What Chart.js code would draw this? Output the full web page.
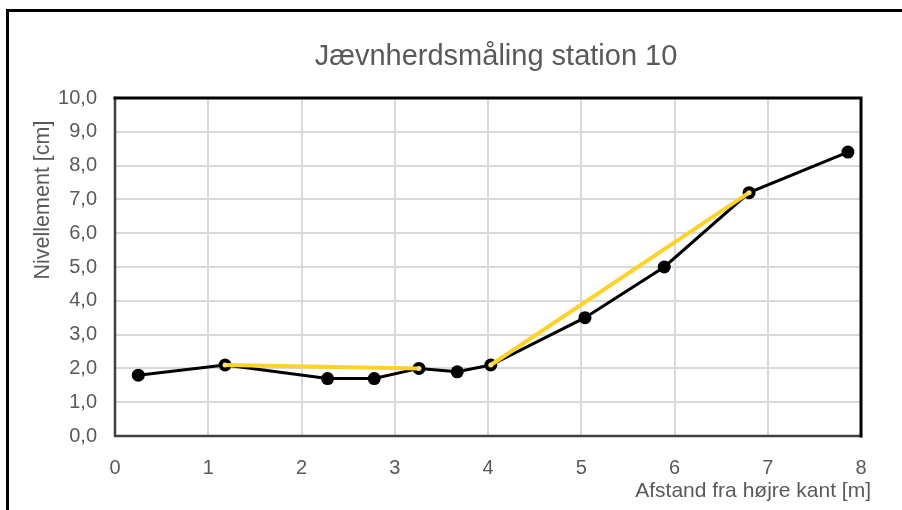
<!DOCTYPE html>
<html>
<head>
<meta charset="utf-8">
<script src="https://cdn.jsdelivr.net/npm/chart.js@4/dist/chart.umd.min.js"></script>
<style>
  html, body { margin: 0; padding: 0; background: #ffffff; }
  #wrap { width: 902px; height: 510px; }
</style>
</head>
<body>
<div id="wrap"><canvas id="c" width="902" height="510"></canvas></div>
<script>
// Measured profile: distance from the right edge [m] and levelling [cm]
const distance = [0.25, 1.18, 2.28, 2.78, 3.26, 3.67, 4.03, 5.04, 5.89, 6.80, 7.86];
const levelling = [1.8, 2.1, 1.7, 1.7, 2.0, 1.9, 2.1, 3.5, 5.0, 7.2, 8.4];

// Straight reference segments (gap between them)
const refDistance = [1.18, 3.26, null, 4.03, 6.80];
const refLevelling = [2.1, 2.0, null, 2.1, 7.2];

const yTicks = [0, 1, 2, 3, 4, 5, 6, 7, 8, 9, 10];
const xTicks = [0, 1, 2, 3, 4, 5, 6, 7, 8];

const chartTitle = 'Jævnherdsmåling station 10';
const yTitle = 'Nivellement [cm]';
const xTitle = 'Afstand fra højre kant [m]';

const FONT = '"Liberation Sans", Arial, sans-serif';
const TEXT = '#595959';

const toPoints = (xs, ys) => xs.map((x, i) => (x === null ? { x: null, y: null } : { x: x, y: ys[i] }));

// Frame, plot border and texts
const decor = {
  id: 'decor',
  beforeDatasetsDraw(chart) {
    const { ctx, chartArea: a } = chart;
    ctx.save();
    ctx.lineCap = 'square';
    ctx.strokeStyle = '#404040';
    ctx.lineWidth = 2.5;
    ctx.beginPath();
    ctx.moveTo(a.left, a.top);
    ctx.lineTo(a.left, a.bottom);
    ctx.lineTo(a.right, a.bottom);
    ctx.stroke();
    ctx.strokeStyle = '#000000';
    ctx.lineWidth = 3;
    ctx.beginPath();
    ctx.moveTo(a.left, a.top);
    ctx.lineTo(a.right, a.top);
    ctx.lineTo(a.right, a.bottom);
    ctx.stroke();
    ctx.restore();
  },
  afterDraw(chart) {
    const { ctx } = chart;
    ctx.save();
    // outer frame
    ctx.strokeStyle = '#000000';
    ctx.lineWidth = 3;
    ctx.beginPath();
    ctx.moveTo(7.5, 520);
    ctx.lineTo(7.5, 10.5);
    ctx.lineTo(910, 10.5);
    ctx.stroke();

    ctx.fillStyle = TEXT;
    ctx.textBaseline = 'middle';
    ctx.textAlign = 'center';
    ctx.font = '29px ' + FONT;
    ctx.fillText(chartTitle, 496, 57);

    ctx.font = '21px ' + FONT;
    ctx.textAlign = 'right';
    ctx.fillText(xTitle, 871, 491);

    ctx.translate(43, 200);
    ctx.rotate(-Math.PI / 2);
    ctx.textAlign = 'center';
    ctx.font = '21.5px ' + FONT;
    ctx.fillText(yTitle, 0, 0);
    ctx.restore();
  }
};

new Chart(document.getElementById('c'), {
  type: 'scatter',
  data: {
    datasets: [
      {
        data: toPoints(refDistance, refLevelling),
        showLine: true,
        spanGaps: false,
        borderColor: '#FFD22B',
        backgroundColor: '#FFE27A',
        borderWidth: 4,
        pointRadius: 2.5,
        pointBorderWidth: 0,
        order: 0
      },
      {
        data: toPoints(distance, levelling),
        showLine: true,
        borderColor: '#000000',
        backgroundColor: '#000000',
        borderWidth: 3,
        pointRadius: 6.5,
        pointBorderWidth: 0,
        order: 1
      }
    ]
  },
  options: {
    responsive: false,
    animation: false,
    layout: { padding: { top: 98, right: 41, left: 0, bottom: 0 } },
    plugins: { legend: { display: false }, title: { display: false }, tooltip: { enabled: false } },
    scales: {
      x: {
        type: 'linear',
        min: xTicks[0],
        max: xTicks[xTicks.length - 1],
        afterBuildTicks(s) { s.ticks = xTicks.map(v => ({ value: v })); },
        afterFit(s) { s.height = 74; },
        grid: { color: '#d9d9d9', lineWidth: 2, drawTicks: false },
        border: { display: false },
        ticks: { padding: 20, color: TEXT, font: { family: FONT, size: 20 }, callback: v => String(v) }
      },
      y: {
        type: 'linear',
        min: yTicks[0],
        max: yTicks[yTicks.length - 1],
        afterBuildTicks(s) { s.ticks = yTicks.map(v => ({ value: v })); },
        afterFit(s) { s.width = 115; },
        grid: { color: '#d9d9d9', lineWidth: 2, drawTicks: false },
        border: { display: false },
        ticks: { padding: 18, color: TEXT, font: { family: FONT, size: 20 }, callback: v => Number(v).toFixed(1).replace('.', ',') }
      }
    }
  },
  plugins: [decor]
});
</script>
</body>
</html>
